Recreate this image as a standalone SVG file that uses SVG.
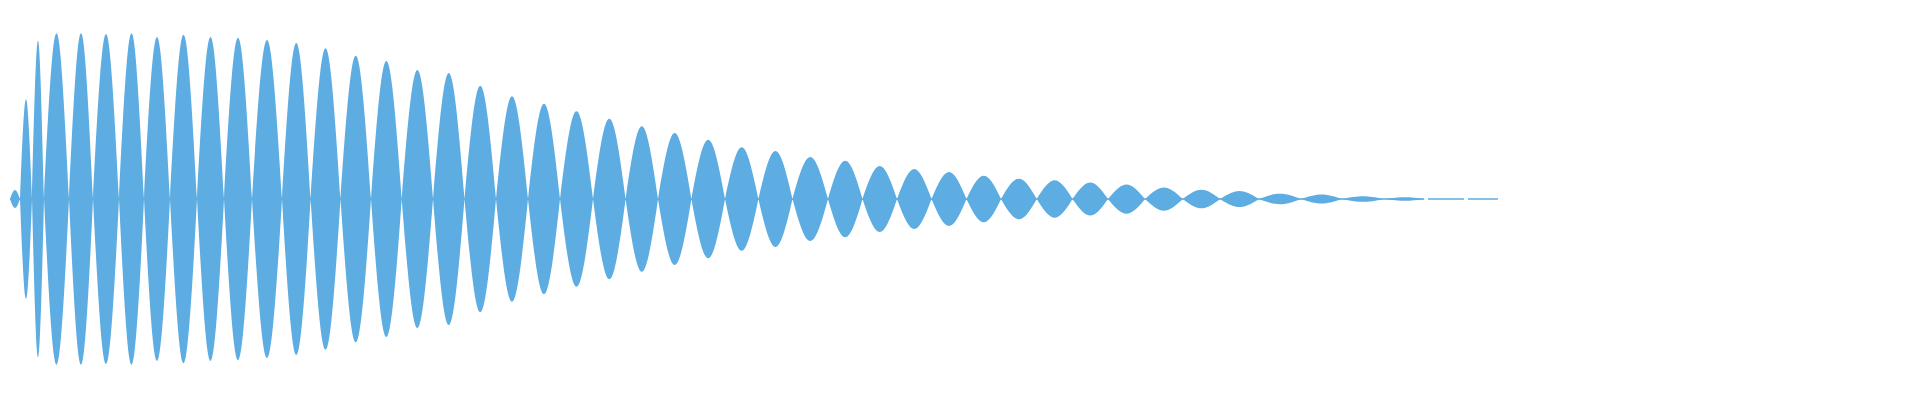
<svg xmlns="http://www.w3.org/2000/svg" width="1920" height="400" viewBox="0 0 1920 400">
<style>.w{fill:#5DADE2;stroke:none}.c{stroke:#5DADE2;stroke-width:1.6;fill:none}</style>
<rect width="1920" height="400" fill="#ffffff"/>
<g id="waveform">
<path class="c" d="M10 199H1424M1428 199H1464M1468 199H1498"/>
<path class="w" d="
M10 199c4.2 -12 5.8 -12 10 0c-4.2 12 -5.8 12 -10 0z
M20 199c5.1 -133 6.9 -133 12 0c-5.1 133 -6.9 133 -12 0z
M32 199c5.1 -211 6.9 -211 12 0c-5.1 211 -6.9 211 -12 0z
M44 199c10.6 -221 14.4 -221 25 0c-10.6 221 -14.4 221 -25 0z
M69 199c10.2 -221 13.8 -221 24 0c-10.2 221 -13.8 221 -24 0z
M93 199c11 -220 15 -220 26 0c-11 220 -15 220 -26 0z
M119 199c10.6 -221 14.4 -221 25 0c-10.6 221 -14.4 221 -25 0z
M144 199c11 -216 15 -216 26 0c-11 216 -15 216 -26 0z
M170 199c11.5 -219 15.5 -219 27 0c-11.5 219 -15.5 219 -27 0z
M197 199c11.5 -216 15.5 -216 27 0c-11.5 216 -15.5 216 -27 0z
M224 199c11.9 -215 16.1 -215 28 0c-11.9 215 -16.1 215 -28 0z
M252 199c12.7 -212 17.3 -212 30 0c-12.7 212 -17.3 212 -30 0z
M282 199c12.1 -208 16.5 -208 28.6 0c-12.1 208 -16.5 208 -28.6 0z
M310.6 199c12.7 -201 17.2 -201 29.9 0c-12.7 201 -17.2 201 -29.9 0z
M340.5 199c12.9 -191 17.6 -191 30.5 0c-12.9 191 -17.6 191 -30.5 0z
M371 199c13 -184 17.7 -184 30.7 0c-13 184 -17.7 184 -30.7 0z
M401.7 199c13.3 -172 18 -172 31.3 0c-13.3 172 -18 172 -31.3 0z
M433 199c13.4 -168 18.1 -168 31.5 0c-13.4 168 -18.1 168 -31.5 0z
M464.5 199c13.4 -151 18.1 -151 31.5 0c-13.4 151 -18.1 151 -31.5 0z
M496 199c13.6 -137 18.4 -137 32 0c-13.6 137 -18.4 137 -32 0z
M528 199c13.6 -127 18.4 -127 32 0c-13.6 127 -18.4 127 -32 0z
M560 199c14 -117 19 -117 33 0c-14 117 -19 117 -33 0z
M593 199c13.8 -107 18.8 -107 32.6 0c-13.8 107 -18.8 107 -32.6 0z
M625.6 199c13.8 -97 18.6 -97 32.4 0c-13.8 97 -18.6 97 -32.4 0z
M658 199c14.2 -88 19.2 -88 33.4 0c-14.2 88 -19.2 88 -33.4 0z
M691.4 199c14.3 -79 19.3 -79 33.6 0c-14.3 79 -19.3 79 -33.6 0z
M725 199c14.2 -69 19.2 -69 33.4 0c-14.2 69 -19.2 69 -33.4 0z
M758.4 199c14.5 -64 19.6 -64 34.1 0c-14.5 64 -19.6 64 -34.1 0z
M792.5 199c15.1 -56 20.4 -56 35.5 0c-15.1 56 -20.4 56 -35.5 0z
M828 199c14.6 -51 19.9 -51 34.5 0c-14.6 51 -19.9 51 -34.5 0z
M862.5 199c14.6 -44 19.9 -44 34.5 0c-14.6 44 -19.9 44 -34.5 0z
M897 199c14.6 -40 19.9 -40 34.5 0c-14.6 40 -19.9 40 -34.5 0z
M931.5 199c14.9 -36 20.1 -36 35 0c-14.9 36 -20.1 36 -35 0z
M966.5 199c14.6 -31 19.9 -31 34.5 0c-14.6 31 -19.9 31 -34.5 0z
M1001 199c15.2 -27 20.6 -27 35.8 0c-15.2 27 -20.6 27 -35.8 0z
M1036.8 199c15.2 -25 20.5 -25 35.7 0c-15.2 25 -20.5 25 -35.7 0z
M1072.5 199c15.1 -22 20.4 -22 35.5 0c-15.1 22 -20.4 22 -35.5 0z
M1108 199c15.7 -19.5 21.3 -19.5 37 0c-15.7 19.5 -21.3 19.5 -37 0z
M1145 199c16 -15.5 21.8 -15.5 37.8 0c-16 15.5 -21.8 15.5 -37.8 0z
M1182.8 199c15.8 -12.4 21.4 -12.4 37.2 0c-15.8 12.4 -21.4 12.4 -37.2 0z
M1220 199c16.6 -10.7 22.4 -10.7 39 0c-16.6 10.7 -22.4 10.7 -39 0z
M1259 199c17.8 -7 24.2 -7 42 0c-17.8 7 -24.2 7 -42 0z
M1301 199c17.4 -6 23.6 -6 41 0c-17.4 6 -23.6 6 -41 0z
M1342 199c17.8 -3.8 24.2 -3.8 42 0c-17.8 3.8 -24.2 3.8 -42 0z
M1384 199c17.8 -2.4 24.2 -2.4 42 0c-17.8 2.4 -24.2 2.4 -42 0z
"/>
</g>
</svg>
